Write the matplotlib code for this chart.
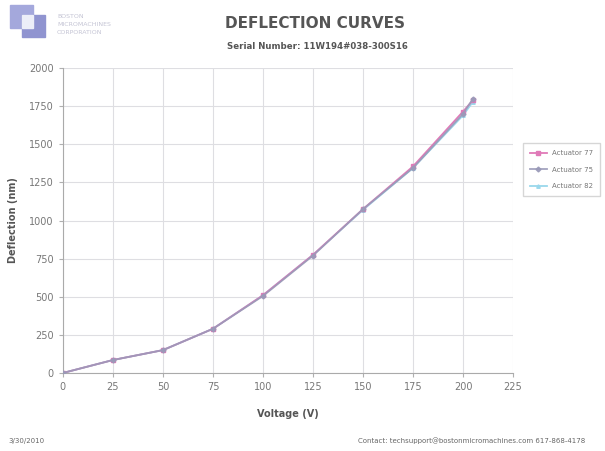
import matplotlib.pyplot as plt
from matplotlib.patches import Rectangle

# deflection data per actuator
voltage = [0, 25, 50, 75, 100, 125, 150, 175, 200, 205]
act77 = [0, 85, 150, 290, 510, 775, 1075, 1355, 1715, 1790]
act75 = [0, 85, 150, 290, 505, 770, 1075, 1345, 1700, 1800]
act82 = [0, 85, 150, 290, 510, 775, 1070, 1345, 1690, 1780]
x_ticks = list(range(0, 226, 25))
y_ticks = list(range(0, 2001, 250))

fig = plt.figure(figsize=(6.05, 4.51), dpi=100)
ax = fig.add_axes([0.104, 0.173, 0.744, 0.676])

ax.plot(voltage, act77, color='#e07ab8', lw=1.3, marker='s', ms=2.5, label='Actuator 77', zorder=2)
ax.plot(voltage, act82, color='#9ad8ec', lw=1.3, marker='^', ms=2.5, label='Actuator 82', zorder=1)
ax.plot(voltage, act75, color='#9a9ab8', lw=1.3, marker='D', ms=2.5, label='Actuator 75', zorder=3, alpha=0.9)

ax.set_xlim(0, 225)
ax.set_ylim(0, 2000)
ax.set_xticks(x_ticks)
ax.set_yticks(y_ticks)
ax.grid(True, color='#dedee2', lw=0.8)
ax.set_axisbelow(True)
ax.tick_params(colors='#b0b0b0', labelcolor='#777777', labelsize=7, length=3)
for side in ['top', 'right']:
    ax.spines[side].set_visible(False)
for side in ['left', 'bottom']:
    ax.spines[side].set_color('#aaaaaa')

ax.set_xlabel('Voltage (V)', fontsize=7, fontweight='bold', color='#555555', labelpad=12)
ax.set_ylabel('Deflection (nm)', fontsize=7, fontweight='bold', color='#555555', labelpad=8)

handles, labels = ax.get_legend_handles_labels()
order = [0, 2, 1]
leg = fig.legend([handles[i] for i in order], [labels[i] for i in order],
                 loc='upper left', bbox_to_anchor=(0.858, 0.69), fontsize=5, frameon=True,
                 fancybox=False, edgecolor='#cccccc', handlelength=2.5, labelspacing=1.5,
                 borderpad=1.0)
for t in leg.get_texts():
    t.set_color('#777777')

fig.text(0.52, 0.948, 'DEFLECTION CURVES', ha='center', va='center', fontsize=11,
         fontweight='bold', color='#555555')
fig.text(0.525, 0.898, 'Serial Number: 11W194#038-300S16', ha='center', va='center',
         fontsize=6.2, fontweight='bold', color='#555555')

# company logo in the corner
fig.patches.append(Rectangle((10 / 605, 1 - 28 / 451), 23 / 605, 23 / 451,
                             transform=fig.transFigure, color='#a4a8dc', zorder=1))
fig.patches.append(Rectangle((22 / 605, 1 - 37 / 451), 23 / 605, 22 / 451,
                             transform=fig.transFigure, color='#9094d0', zorder=2))
fig.patches.append(Rectangle((22 / 605, 1 - 28 / 451), 11 / 605, 13 / 451,
                             transform=fig.transFigure, color='#eceef8', zorder=3))
for i, line in enumerate(['BOSTON', 'MICROMACHINES', 'CORPORATION']):
    fig.text(57 / 605, 1 - (17 + 8 * i) / 451, line, fontsize=4.5, color='#c4c4d4', va='center')

fig.text(8 / 605, 1 - 441 / 451, '3/30/2010', fontsize=5, color='#666666', va='center')
fig.text(358 / 605, 1 - 441 / 451, 'Contact: techsupport@bostonmicromachines.com 617-868-4178',
         fontsize=5, color='#666666', va='center')

fig.savefig('out.png', dpi=100)
